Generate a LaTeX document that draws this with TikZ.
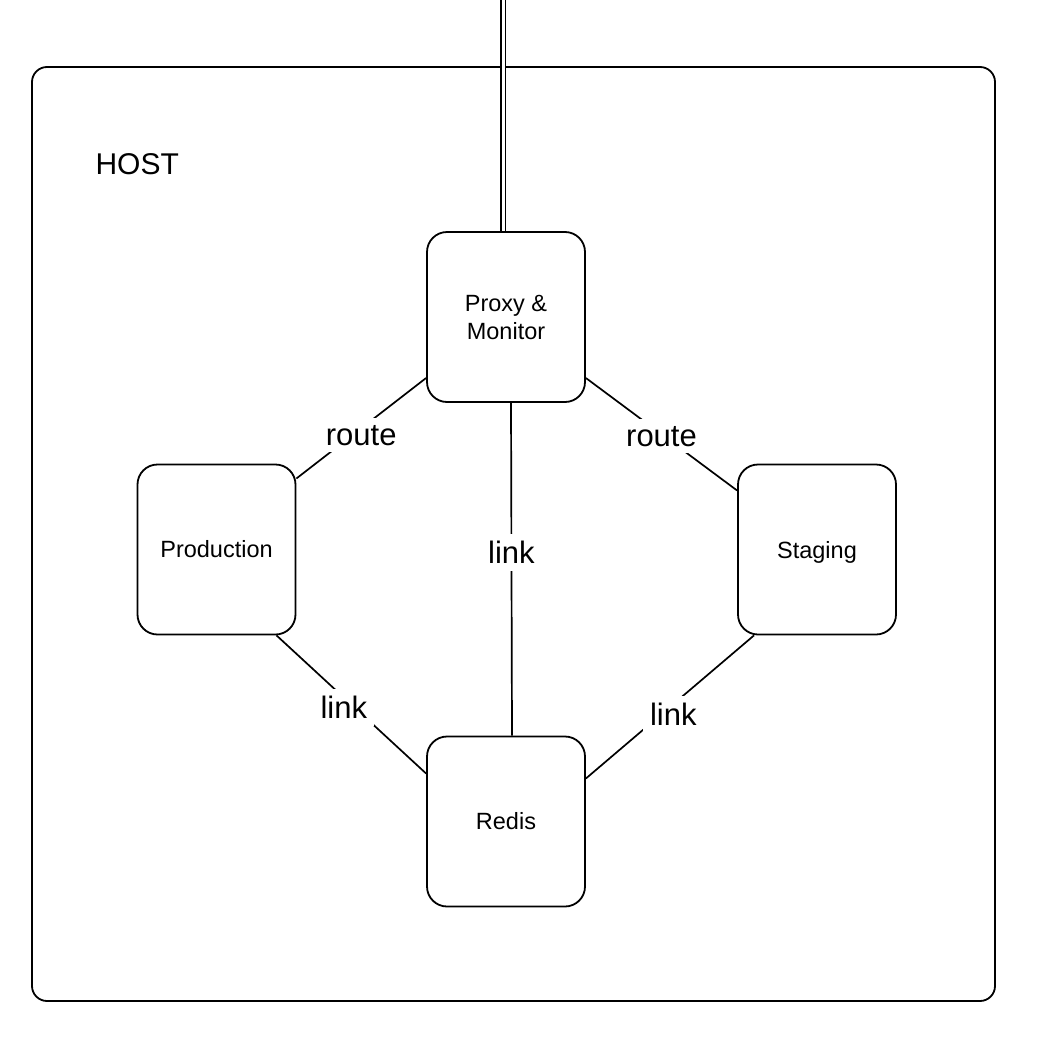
\documentclass[tikz,border=0pt]{standalone}
\usepackage{fontspec}
\setmainfont{Liberation Sans}
\usetikzlibrary{positioning, calc}

\begin{document}
\begin{tikzpicture}[x=1pt, y=-1pt,
    box/.style={draw, line width=1.8pt, rounded corners=20pt, minimum width=158pt, minimum height=170pt, inner sep=0pt, align=center, font=\fontsize{23.5}{28}\selectfont},
    conn/.style={line width=1.7pt},
    lbl/.style={fill=white, inner sep=7pt, font=\fontsize{31}{36}\selectfont}]
    \useasboundingbox (0, 0) rectangle (1038, 1052);

    % Host
    \node[draw, line width=1.8pt, rounded corners=15pt, minimum width=963pt, minimum height=934pt] (host) at (513.5, 534) {};
    \node[anchor=west, font=\fontsize{30}{36}\selectfont] (hostlabel) at (92, 164) {HOST};

    % Containers
    \node[box] (proxy) at (506, 317) {Proxy \&\\Monitor};
    \node[box] (prod) at (216.5, 549.5) {Production};
    \node[box, text depth=0pt] (stag) at (817, 549.5) {Staging};
    \node[box] (redis) at (506, 821.5) {Redis};

    % Outside connection
    \coordinate (outside) at (503, 0);
    \draw[line width=1.8pt, double, double distance=3pt] (outside) -- ([xshift=-3pt]proxy.north);

    % Routes
    \draw[conn] ([yshift=-61pt]proxy.west) -- node[lbl, yshift=-7pt] (routeprod) {route} ([yshift=71pt]prod.east);
    \draw[conn] ([yshift=-61pt]proxy.east) -- node[lbl, yshift=-2pt] (routestag) {route} ([yshift=59pt]stag.west);

    % Links
    \draw[conn] ([xshift=5pt]proxy.south) -- node[lbl, pos=0.45] (linkproxy) {link} ([xshift=6pt]redis.north);
    \draw[conn] ([xshift=60pt]prod.south) -- node[lbl, pos=0.45, yshift=-10pt] (linkprod) {link} ([yshift=48pt]redis.west);
    \draw[conn] ([xshift=-63pt]stag.south) -- node[lbl, pos=0.48, yshift=-10pt] (linkstag) {link} ([yshift=43pt]redis.east);
\end{tikzpicture}
\end{document}
